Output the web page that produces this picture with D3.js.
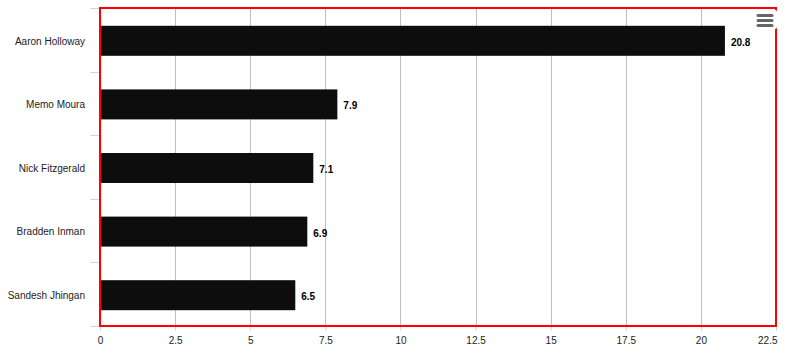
<!DOCTYPE html>
<html lang="en">
<head>
<meta charset="UTF-8">
<title>Player chart</title>
<script src="https://d3js.org/d3.v7.min.js"></script>
<style>
html,body{margin:0;padding:0;background:#fff}
svg{display:block;font-family:"Liberation Sans",Arial,Helvetica,sans-serif}
.grid line{stroke:#c0c0c0;stroke-width:1}
.axis text{fill:#222;font-size:10px}
.axis line{stroke:#ccd6eb}
.axis path{display:none}
.value{font-size:10px;font-weight:bold;fill:#000}
</style>
</head>
<body>
<div id="chart"></div>
<script>
var players = ['Aaron Holloway', 'Memo Moura', 'Nick Fitzgerald', 'Bradden Inman', 'Sandesh Jhingan'];
var values = [20.8, 7.9, 7.1, 6.9, 6.5];
var xTicks = [0, 2.5, 5, 7.5, 10, 12.5, 15, 17.5, 20, 22.5];

var W = 785, H = 359;
var margin = { top: 8, right: 9, bottom: 33, left: 100 };
var w = W - margin.left - margin.right;
var h = H - margin.top - margin.bottom;

var svg = d3.select('#chart').append('svg').attr('width', W).attr('height', H);
var g = svg.append('g').attr('transform', 'translate(' + margin.left + ',' + margin.top + ')');

var x = d3.scaleLinear().domain([0, 22.5]).range([0, w]);
var band = d3.scaleBand().domain(players).range([0, h]);
var barH = 30;
function barY(p) { return band(p) + (band.bandwidth() - barH) / 2 + 1; }

// vertical grid
g.append('g').attr('class', 'grid').selectAll('line').data(xTicks).join('line')
  .attr('x1', function(d) { return Math.round(x(d)) + 0.5; })
  .attr('x2', function(d) { return Math.round(x(d)) + 0.5; })
  .attr('y1', 0).attr('y2', h);

// category ticks on the left
var catTicks = players.map(function(p) { return band(p); }).concat([h]);
g.append('g').attr('class', 'axis').selectAll('line').data(catTicks).join('line')
  .attr('x1', -10).attr('x2', 0)
  .attr('y1', function(d) { return Math.round(d) + 0.5; })
  .attr('y2', function(d) { return Math.round(d) + 0.5; });

g.append('g').attr('class', 'axis').attr('transform', 'translate(0,1.5)')
  .call(d3.axisLeft(band).tickSize(0).tickPadding(15))
  .selectAll('text').attr('font-size', '10px').attr('fill', '#222');

// x axis
var xa = g.append('g').attr('class', 'axis').attr('transform', 'translate(0,' + h + ')')
  .call(d3.axisBottom(x).tickValues(xTicks).tickSize(5).tickPadding(6)
    .tickFormat(function(d) { return String(d); }));
xa.selectAll('text').attr('font-size', '10px').attr('fill', '#222');
xa.selectAll('.tick').filter(function(d) { return d === 22.5; })
  .select('text').attr('text-anchor', 'end').attr('x', 1);

// bars
g.selectAll('rect.bar').data(values).join('rect')
  .attr('class', 'bar')
  .attr('x', 1)
  .attr('y', function(d, i) { return barY(players[i]); })
  .attr('width', function(d) { return x(d) - 1; })
  .attr('height', barH)
  .attr('fill', '#0d0d0d');

// value labels
g.selectAll('text.value').data(values).join('text')
  .attr('class', 'value')
  .attr('x', function(d) { return x(d) + 6; })
  .attr('y', function(d, i) { return barY(players[i]) + barH / 2 + 1.5; })
  .attr('dy', '0.35em')
  .text(function(d) { return d; });

// plot border
g.append('rect').attr('x', 0).attr('y', 0).attr('width', w).attr('height', h)
  .attr('fill', 'none').attr('stroke', '#ff0000').attr('stroke-width', 2);

// menu button
var btn = svg.append('g').attr('transform', 'translate(753,10)');
btn.append('rect').attr('width', 24).attr('height', 19).attr('rx', 2).attr('fill', '#fff');
[0, 5, 10].forEach(function(o) {
  btn.append('line').attr('x1', 5).attr('x2', 19).attr('y1', 6 + o - 0.5).attr('y2', 6 + o - 0.5)
    .attr('stroke', '#666').attr('stroke-width', 3).attr('stroke-linecap', 'round');
});
</script>
</body>
</html>
